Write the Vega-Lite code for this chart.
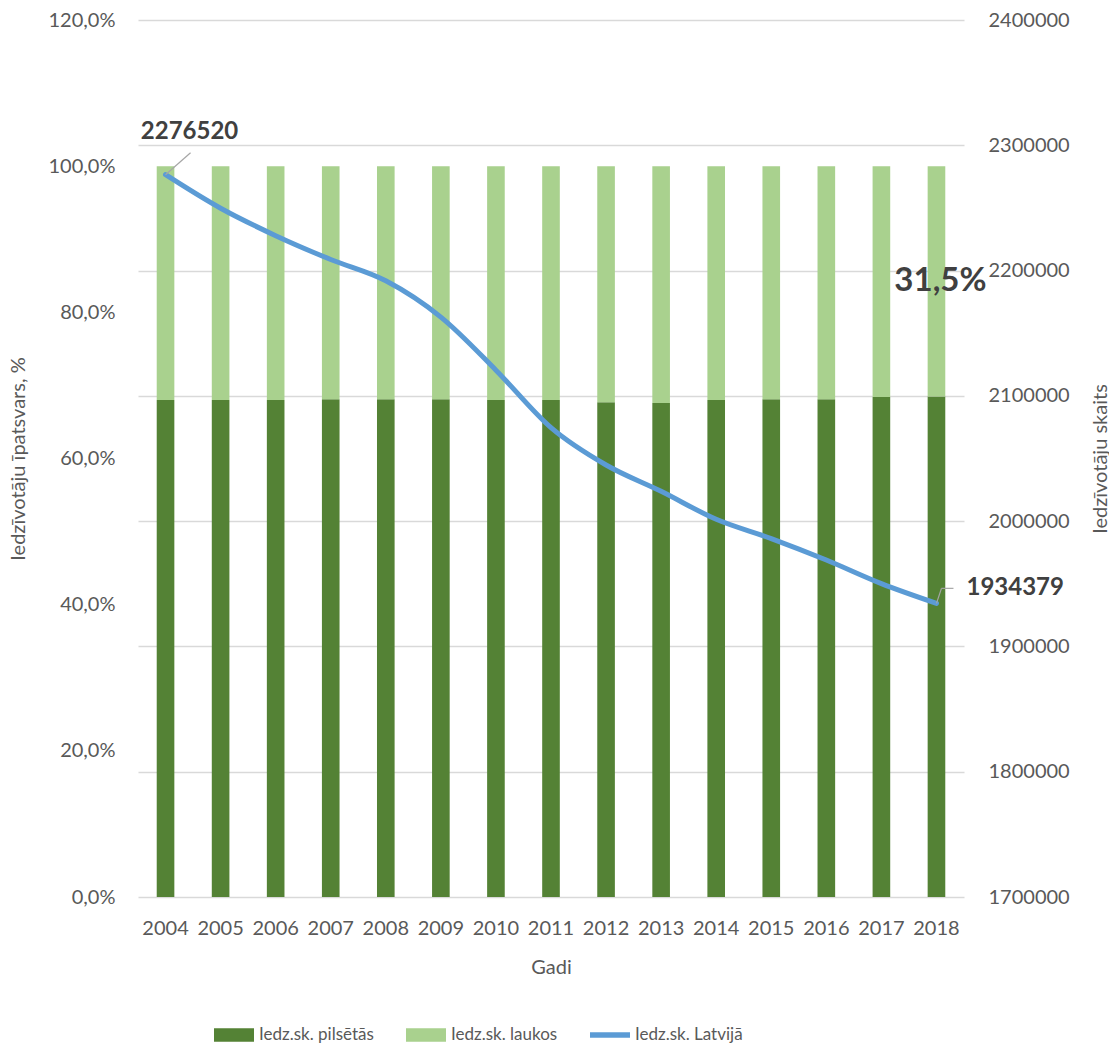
{
  "$schema": "https://vega.github.io/schema/vega-lite/v6.json",
  "width": 826,
  "height": 877,
  "autosize": {"type": "none"},
  "padding": {"left": 138, "top": 20, "right": 145, "bottom": 152},
  "background": "white",
  "datasets": {
    "shares": [
      {"year": "2004", "series": "Iedz.sk. pilsētās", "share": 0.680},
      {"year": "2005", "series": "Iedz.sk. pilsētās", "share": 0.680},
      {"year": "2006", "series": "Iedz.sk. pilsētās", "share": 0.680},
      {"year": "2007", "series": "Iedz.sk. pilsētās", "share": 0.681},
      {"year": "2008", "series": "Iedz.sk. pilsētās", "share": 0.681},
      {"year": "2009", "series": "Iedz.sk. pilsētās", "share": 0.681},
      {"year": "2010", "series": "Iedz.sk. pilsētās", "share": 0.680},
      {"year": "2011", "series": "Iedz.sk. pilsētās", "share": 0.680},
      {"year": "2012", "series": "Iedz.sk. pilsētās", "share": 0.677},
      {"year": "2013", "series": "Iedz.sk. pilsētās", "share": 0.676},
      {"year": "2014", "series": "Iedz.sk. pilsētās", "share": 0.680},
      {"year": "2015", "series": "Iedz.sk. pilsētās", "share": 0.681},
      {"year": "2016", "series": "Iedz.sk. pilsētās", "share": 0.681},
      {"year": "2017", "series": "Iedz.sk. pilsētās", "share": 0.684},
      {"year": "2018", "series": "Iedz.sk. pilsētās", "share": 0.685},
      {"year": "2004", "series": "Iedz.sk. laukos", "share": 0.320},
      {"year": "2005", "series": "Iedz.sk. laukos", "share": 0.320},
      {"year": "2006", "series": "Iedz.sk. laukos", "share": 0.320},
      {"year": "2007", "series": "Iedz.sk. laukos", "share": 0.319},
      {"year": "2008", "series": "Iedz.sk. laukos", "share": 0.319},
      {"year": "2009", "series": "Iedz.sk. laukos", "share": 0.319},
      {"year": "2010", "series": "Iedz.sk. laukos", "share": 0.320},
      {"year": "2011", "series": "Iedz.sk. laukos", "share": 0.320},
      {"year": "2012", "series": "Iedz.sk. laukos", "share": 0.323},
      {"year": "2013", "series": "Iedz.sk. laukos", "share": 0.324},
      {"year": "2014", "series": "Iedz.sk. laukos", "share": 0.320},
      {"year": "2015", "series": "Iedz.sk. laukos", "share": 0.319},
      {"year": "2016", "series": "Iedz.sk. laukos", "share": 0.319},
      {"year": "2017", "series": "Iedz.sk. laukos", "share": 0.316},
      {"year": "2018", "series": "Iedz.sk. laukos", "share": 0.315}
    ],
    "population": [
      {"year": "2004", "pop": 2276520},
      {"year": "2005", "pop": 2249724},
      {"year": "2006", "pop": 2227874},
      {"year": "2007", "pop": 2208840},
      {"year": "2008", "pop": 2191810},
      {"year": "2009", "pop": 2162834},
      {"year": "2010", "pop": 2120504},
      {"year": "2011", "pop": 2074605},
      {"year": "2012", "pop": 2044813},
      {"year": "2013", "pop": 2023825},
      {"year": "2014", "pop": 2001468},
      {"year": "2015", "pop": 1986096},
      {"year": "2016", "pop": 1968957},
      {"year": "2017", "pop": 1950116},
      {"year": "2018", "pop": 1934379}
    ]
  },
  "encoding": {
    "x": {
      "field": "year",
      "type": "ordinal",
      "scale": {"paddingInner": 0.68, "paddingOuter": 0.34},
      "axis": {
        "title": "Gadi",
        "labelAngle": 0,
        "labelBaseline": "middle",
        "labelPadding": 31,
        "ticks": false,
        "domain": false,
        "titleY": 70,
        "titleBaseline": "middle"
      }
    }
  },
  "layer": [
    {
      "data": {"name": "shares"},
      "layer": [
        {
          "mark": {"type": "bar"},
          "encoding": {
            "y": {
              "field": "share",
              "type": "quantitative",
              "stack": "zero",
              "scale": {"domain": [0, 1.2], "nice": false},
              "axis": {
                "title": "Iedzīvotāju īpatsvars, %",
                "format": ".1%",
                "values": [0, 0.2, 0.4, 0.6, 0.8, 1.0, 1.2],
                "grid": false,
                "ticks": false,
                "domain": false,
                "labelPadding": 23,
                "titleX": -120,
                "titleY": 438.5,
                "titleAngle": -90,
                "titleAlign": "center",
                "titleBaseline": "middle"
              }
            },
            "color": {
              "field": "series",
              "type": "nominal",
              "sort": ["Iedz.sk. pilsētās", "Iedz.sk. laukos", "Iedz.sk. Latvijā"],
              "scale": {
                "domain": ["Iedz.sk. pilsētās", "Iedz.sk. laukos", "Iedz.sk. Latvijā"],
                "range": ["#548235", "#A9D18E", "#5B9BD5"]
              },
              "legend": {
                "title": null,
                "orient": "none",
                "direction": "horizontal",
                "legendX": 76,
                "legendY": 995,
                "symbolSize": 1600,
                "labelFontSize": 17,
                "labelColor": "#595959",
                "labelOffset": 5,
                "columnPadding": 32,
                "padding": 0,
                "symbolStrokeWidth": 0,
                "encode": {
                  "symbols": {
                    "update": {
                      "shape": {"signal": "datum.value === 'Iedz.sk. Latvijā' ? 'M-1,-0.14H1V0.14H-1Z' : 'M-1,-0.34H1V0.34H-1Z'"},
                      "fillOpacity": {"value": 1}
                    }
                  }
                }
              }
            },
            "order": {"field": "series", "sort": "descending"}
          }
        },
        {
          "mark": {"type": "text", "fontSize": 33, "fontWeight": "bold", "color": "#404040", "baseline": "middle", "align": "center", "dx": 4},
          "encoding": {
            "y": {"field": "share", "type": "quantitative", "stack": "zero", "bandPosition": 0.5},
            "order": {"field": "series", "sort": "descending"},
            "text": {
              "condition": {"test": "datum.year === '2018' && datum.series === 'Iedz.sk. laukos'", "field": "share", "type": "quantitative", "format": ".1%"},
              "value": ""
            }
          }
        }
      ]
    },
    {
      "data": {"name": "population"},
      "layer": [
        {
          "mark": {"type": "line", "color": "#5B9BD5", "strokeWidth": 5, "strokeCap": "round", "strokeJoin": "round", "interpolate": "monotone"},
          "encoding": {
            "y": {
              "field": "pop",
              "type": "quantitative",
              "scale": {"domain": [1700000, 2400000], "nice": false, "zero": false},
              "axis": {
                "orient": "right",
                "title": "Iedzīvotāju skaits",
                "format": "d",
                "values": [1700000, 1800000, 1900000, 2000000, 2100000, 2200000, 2300000, 2400000],
                "grid": true,
                "gridColor": "#D9D9D9",
                "gridWidth": 1.5,
                "ticks": false,
                "domain": false,
                "labelPadding": 24,
                "titleX": 136,
                "titleY": 438.5,
                "titleAngle": -90,
                "titleAlign": "center",
                "titleBaseline": "middle"
              }
            }
          }
        },
        {
          "transform": [{"filter": "datum.year === '2004'"}],
          "mark": {"type": "rule", "color": "#A6A6A6", "strokeWidth": 1.2, "x2Offset": 25, "y2Offset": -22},
          "encoding": {
            "x": {"field": "year", "type": "ordinal", "bandPosition": 0.5},
            "x2": {"field": "year"},
            "y": {"field": "pop", "type": "quantitative"},
            "y2": {"field": "pop"}
          }
        },
        {
          "transform": [{"filter": "datum.year === '2018'"}],
          "mark": {"type": "rule", "color": "#A6A6A6", "strokeWidth": 1.2, "x2Offset": 5, "y2Offset": -15},
          "encoding": {
            "x": {"field": "year", "type": "ordinal", "bandPosition": 0.5},
            "x2": {"field": "year"},
            "y": {"field": "pop", "type": "quantitative"},
            "y2": {"field": "pop"}
          }
        },
        {
          "transform": [{"filter": "datum.year === '2018'"}],
          "mark": {"type": "rule", "color": "#A6A6A6", "strokeWidth": 1.2, "xOffset": 5, "yOffset": -15, "x2Offset": 17, "y2Offset": -15},
          "encoding": {
            "x": {"field": "year", "type": "ordinal", "bandPosition": 0.5},
            "x2": {"field": "year"},
            "y": {"field": "pop", "type": "quantitative"},
            "y2": {"field": "pop"}
          }
        },
        {
          "transform": [{"filter": "datum.year === '2004'"}],
          "mark": {"type": "text", "fontSize": 24, "fontWeight": "bold", "color": "#404040", "align": "center", "baseline": "middle", "dx": 24, "dy": -43},
          "encoding": {
            "y": {"field": "pop", "type": "quantitative"},
            "text": {"field": "pop", "type": "quantitative", "format": "d"}
          }
        },
        {
          "transform": [{"filter": "datum.year === '2018'"}],
          "mark": {"type": "text", "fontSize": 24, "fontWeight": "bold", "color": "#404040", "align": "left", "baseline": "middle", "dx": 30, "dy": -15},
          "encoding": {
            "y": {"field": "pop", "type": "quantitative"},
            "text": {"field": "pop", "type": "quantitative", "format": "d"}
          }
        }
      ]
    }
  ],
  "resolve": {"scale": {"y": "independent"}},
  "config": {
    "font": "Lato",
    "locale": {"number": {"decimal": ",", "thousands": " ", "grouping": [3], "currency": ["", " €"]}},
    "view": {"stroke": null},
    "axis": {
      "labelFont": "Lato",
      "labelFontSize": 20,
      "labelColor": "#595959",
      "titleFont": "Lato",
      "titleFontSize": 20,
      "titleFontWeight": "normal",
      "titleColor": "#595959"
    },
    "legend": {"labelFont": "Lato"}
  }
}
